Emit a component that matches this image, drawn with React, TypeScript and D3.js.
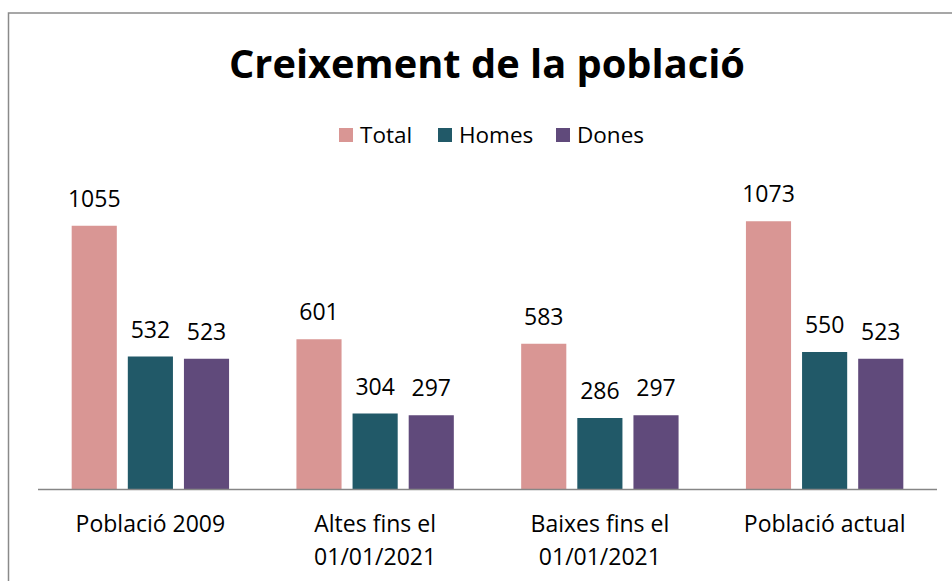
import React from "react";
import * as d3 from "d3";

const categories: string[][] = [
  ["Població 2009"],
  ["Altes fins el", "01/01/2021"],
  ["Baixes fins el", "01/01/2021"],
  ["Població actual"],
];
const seriesNames = ["Total", "Homes", "Dones"];
const totalValues = [1055, 601, 583, 1073];
const homesValues = [532, 304, 286, 550];
const donesValues = [523, 297, 297, 523];
const seriesColors = ["#D99694", "#215968", "#604A7B"];
const title = "Creixement de la població";

const W = 952;
const H = 581;
const FONT = "'Open Sans', sans-serif";

export default function App() {
  const seriesValues = [totalValues, homesValues, donesValues];
  const catKeys = categories.map((c) => c.join(" "));
  const x0 = d3.scaleBand<string>().domain(catKeys).range([38, 937]).paddingInner(0).paddingOuter(0);
  const x1 = d3
    .scaleBand<string>()
    .domain(seriesNames)
    .range([0, x0.bandwidth()])
    .paddingInner(0.196)
    .paddingOuter(0.6);
  const y = d3.scaleLinear().domain([0, 1200]).range([489.5, 189.5]);

  const legendItems = [
    { name: "Total", sq: 339, tx: 360 },
    { name: "Homes", sq: 438, tx: 459 },
    { name: "Dones", sq: 556, tx: 577 },
  ];

  return (
    <svg
      width={W}
      height={H}
      style={{ position: "absolute", left: 0, top: 0, background: "#fff" }}
      fontFamily={FONT}
    >
      <rect x={0} y={0} width={W} height={H} fill="#fff" />
      <rect x={8.5} y={13} width={W + 20} height={H + 20} fill="none" stroke="#8a8a8a" strokeWidth={1.5} />
      <text x={487} y={78} textAnchor="middle" fontSize={39.8} fontWeight={700} fill="#000">
        {title}
      </text>
      {legendItems.map((l, i) => (
        <g key={l.name}>
          <rect x={l.sq} y={128} width={14} height={14} fill={seriesColors[i]} />
          <text x={l.tx} y={143} fontSize={22.5} fill="#000">
            {seriesNames[i]}
          </text>
        </g>
      ))}
      {catKeys.map((ck, ci) => (
        <g key={ck} transform={`translate(${x0(ck)},0)`}>
          {seriesNames.map((s, si) => {
            const v = seriesValues[si][ci];
            const bx = x1(s)!;
            return (
              <g key={s}>
                <rect
                  x={bx}
                  y={y(v)}
                  width={x1.bandwidth()}
                  height={y(0) - y(v)}
                  fill={seriesColors[si]}
                />
                <text
                  x={bx + x1.bandwidth() / 2}
                  y={y(v) - 19}
                  textAnchor="middle"
                  fontSize={23}
                  fill="#000"
                >
                  {v}
                </text>
              </g>
            );
          })}
          {categories[ci].map((line, li) => (
            <text
              key={li}
              x={x0.bandwidth() / 2}
              y={532 + li * 33}
              textAnchor="middle"
              fontSize={23}
              fill="#000"
            >
              {line}
            </text>
          ))}
        </g>
      ))}
      <line x1={38} x2={937} y1={489.5} y2={489.5} stroke="#868686" strokeWidth={1.5} />
    </svg>
  );
}
